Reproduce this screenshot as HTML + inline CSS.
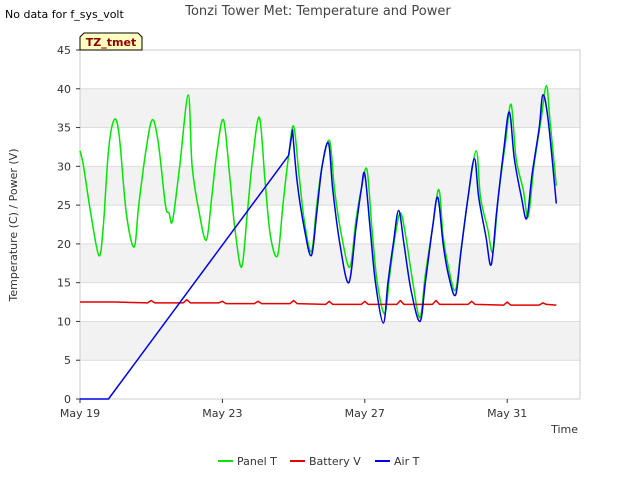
<!DOCTYPE html>
<html><head><meta charset="utf-8"><style>
body{margin:0;background:#fff;font-family:"Liberation Sans","DejaVu Sans",sans-serif}
svg text{font-family:"DejaVu Sans","Liberation Sans",sans-serif}
</style></head><body>
<svg id="c" width="640" height="480" xmlns="http://www.w3.org/2000/svg">
<text x="5" y="18" font-size="11" fill="#000">No data for f_sys_volt</text>
<text x="318" y="15" font-size="13" fill="#444" text-anchor="middle">Tonzi Tower Met: Temperature and Power</text>
<g id="bands"></g><g id="grid"></g>
<rect x="80" y="50" width="500" height="349" fill="none" stroke="#ccc"/>
<g id="ticks"></g>
<text x="17" y="225" font-size="11" fill="#333" text-anchor="middle" transform="rotate(-90 17 225)">Temperature (C) / Power (V)</text>
<text x="578" y="433" font-size="11" fill="#333" text-anchor="end">Time</text>
<g id="series"></g>
<g>
<path d="M80,50 L80,37 L84,33 L138,33 L142,37 L142,50 Z" fill="#ffffc0" stroke="#000"/>
<text x="111" y="46" font-size="11" font-weight="bold" fill="#8b0000" text-anchor="middle">TZ_tmet</text></g>
<g id="legend"></g>
</svg>
<script>
const yTicks=[0,5,10,15,20,25,30,35,40,45];
const xTickDays=[0,4,8,12];
const xTickLabels=["May 19","May 23","May 27","May 31"];
const panelDays=[0,0.1,0.3,0.53,0.65,0.8,0.96,1.1,1.3,1.52,1.65,1.85,2.03,2.2,2.4,2.5,2.6,2.8,3.04,3.15,3.35,3.55,3.7,3.85,4.03,4.2,4.35,4.54,4.7,4.85,5.04,5.2,5.35,5.55,5.7,5.85,6.0,6.15,6.3,6.5,6.65,6.8,7.01,7.15,7.35,7.58,7.75,7.9,8.06,8.2,8.35,8.56,8.7,8.85,9.0,9.15,9.35,9.55,9.7,9.9,10.08,10.2,10.35,10.54,10.7,10.9,11.13,11.25,11.45,11.6,11.75,11.95,12.11,12.25,12.45,12.59,12.75,12.95,13.1,13.2,13.38];
const panelVals=[32,30,24,18.5,22,32,36,34,24,19.6,25,32,36,33,25,24,23,30,39.2,30,24,20.5,26,32,36,29,22,17,24,31,36.3,28,21,18.5,25,31,35.2,29,23,19,25,30,33.3,27,21,17,23,27,29.6,22,15,11,16,21,24,21,15,10.5,16,22,27,21,17,14,19,26,32,26,22,19,26,33,38,31,27,23.5,30,36,40.4,36,27.5];
const airDays=[0,0.8,5.86,5.97,6.1,6.3,6.5,6.65,6.8,6.98,7.1,7.3,7.55,7.75,7.9,8.0,8.15,8.3,8.52,8.65,8.8,8.95,9.1,9.3,9.55,9.7,9.9,10.05,10.2,10.35,10.55,10.7,10.9,11.08,11.2,11.4,11.55,11.7,11.9,12.06,12.2,12.4,12.55,12.7,12.9,13.0,13.15,13.38];
const airVals=[0,0,31.4,34.7,28,22,18.5,24,30,33,27,20,15,22,27,29,22,15,9.8,15,20,24.3,20,14,10,15,22,26,20,16,13.4,19,26,31,26,21,17.3,24,32,37,31,26,23.3,29,35,39.2,36,25.2];
const batDays=[0,1,1.9,2.0,2.1,2.9,3.0,3.1,3.9,4.0,4.1,4.9,5.0,5.1,5.9,6.0,6.1,6.9,7.0,7.1,7.9,8.0,8.1,8.9,9.0,9.1,9.9,10.0,10.1,10.9,11.0,11.1,11.9,12.0,12.1,12.9,13.0,13.1,13.38];
const batVals=[12.5,12.5,12.4,12.7,12.4,12.4,12.8,12.4,12.4,12.6,12.3,12.3,12.6,12.3,12.3,12.7,12.3,12.2,12.6,12.2,12.2,12.6,12.2,12.2,12.7,12.2,12.2,12.7,12.2,12.2,12.6,12.2,12.1,12.5,12.1,12.1,12.4,12.2,12.1];
const NS="http://www.w3.org/2000/svg";
const X=d=>80+d*35.6, Y=v=>399-v*(349/45);
function mk(tag,attrs,parent){const e=document.createElementNS(NS,tag);for(const k in attrs)e.setAttribute(k,attrs[k]);parent.appendChild(e);return e;}
const bands=document.getElementById('bands'),grid=document.getElementById('grid'),ticks=document.getElementById('ticks');
for(let i=0;i<yTicks.length-1;i++){if(i%2==1){const r=mk('rect',{x:80,y:Y(yTicks[i+1]),width:500,height:Y(yTicks[i])-Y(yTicks[i+1]),fill:'#f2f2f2'},bands);

}}
yTicks.forEach(v=>{const l=mk('line',{x1:80,x2:580,y1:Y(v),y2:Y(v),stroke:'#dcdcdc'},grid);


mk('line',{x1:76,x2:80,y1:Y(v),y2:Y(v),stroke:'#333'},ticks);
const t=mk('text',{x:71,y:Y(v)+4,'font-size':11,fill:'#333','text-anchor':'end'},ticks);t.textContent=v;

});
xTickDays.forEach((d,i)=>{mk('line',{x1:X(d),x2:X(d),y1:399,y2:403,stroke:'#333'},ticks);
const t=mk('text',{x:X(d),y:417,'font-size':11,fill:'#333','text-anchor':'middle'},ticks);t.textContent=xTickLabels[i];

});
const S=document.getElementById('series');
function smoothPath(ds,vs,skipN){const P=ds.map((d,i)=>[X(d),Y(vs[i])]);let s='M'+P[0][0]+','+P[0][1];
for(let i=0;i<P.length-1;i++){const p0=P[Math.max(skipN,i-1)],p1=P[i],p2=P[i+1],p3=P[Math.min(P.length-1,i+2)];
if(i<skipN){s+=' L'+p2[0]+','+p2[1];continue;}
const k=1/6;const c1=[p1[0]+(p2[0]-p0[0])*k,p1[1]+(p2[1]-p0[1])*k],c2=[p2[0]-(p3[0]-p1[0])*k,p2[1]-(p3[1]-p1[1])*k];
s+=` C${c1[0]},${c1[1]} ${c2[0]},${c2[1]} ${p2[0]},${p2[1]}`;}return s;}
function line(ds,vs,col,name,smooth,skip){const p=mk('path',{d:smooth?smoothPath(ds,vs,skip):'M'+ds.map((d,i)=>X(d)+','+Y(vs[i])).join(' L'),fill:'none',stroke:col,'stroke-width':1.5,'stroke-linejoin':'round'},S);

}
line(panelDays,panelVals,'#00e600','panel-t-line',true,0);
line(batDays,batVals,'#e60000','battery-v-line',false,0);
line(airDays,airVals,'#0000e6','air-t-line',true,3);
const L=document.getElementById('legend');
[['Panel T','#00e600',218],['Battery V','#e60000',290],['Air T','#0000e6',375]].forEach(([n,c,x])=>{
const g=mk('g',{},L);


mk('line',{x1:x,x2:x+15,y1:461,y2:461,stroke:c,'stroke-width':2},g);
const t=mk('text',{x:x+19,y:465,'font-size':11,fill:'#333'},g);t.textContent=n;});
</script>
</body></html>
